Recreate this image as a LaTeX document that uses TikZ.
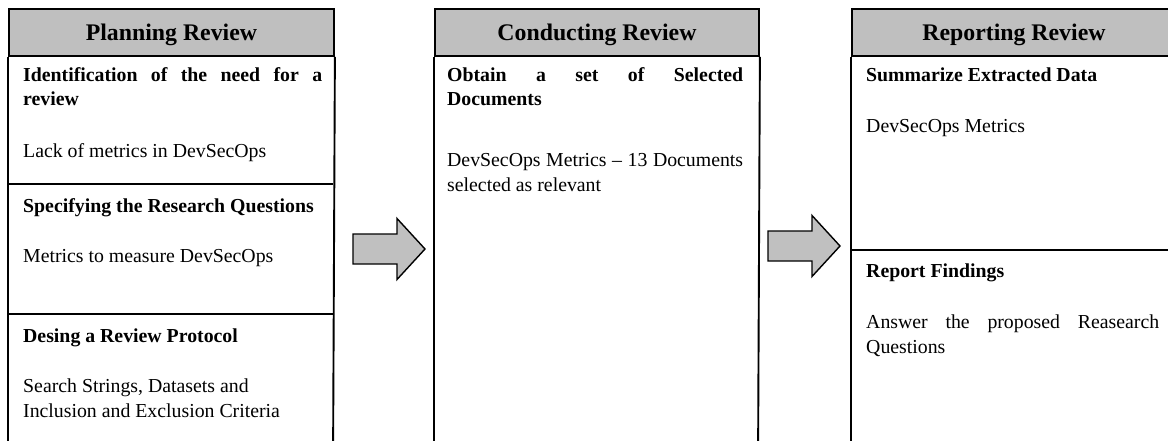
\documentclass[tikz,border=0pt]{standalone}
\usepackage{fontspec}
\setmainfont{Liberation Serif}
\usetikzlibrary{calc}

\hyphenpenalty=10000
\exhyphenpenalty=10000
\tolerance=10000

\begin{document}
\begin{tikzpicture}[x=1pt, y=-1pt,
  phasehead/.style={draw=black, line width=1.9pt, fill=headgray, anchor=north west,
    minimum width=325pt, minimum height=47pt, inner sep=0pt,
    text height=16pt, text depth=0pt, font=\fontsize{23.8}{28}\selectfont\bfseries},
  celltitle/.style={anchor=base west, inner sep=0pt, text width=296pt, align=justify,
    font=\fontsize{19.8}{24}\selectfont\bfseries},
  celltext/.style={celltitle, font=\fontsize{19.8}{25}\selectfont},
  colline/.style={line width=1.9pt},
  blockarrow/.style={draw=black, line width=1.4pt, fill=arrowgray, line join=miter}]

%─────────────
% Controls
%─────────────
\definecolor{headgray}{RGB}{191,191,191}  % header fill
\definecolor{arrowgray}{RGB}{192,192,192} % block arrow fill
\def\colbottom{470}  % columns run on below the picture

\useasboundingbox (0,0) rectangle (1168,441);
\clip (0,0) rectangle (1168,441);

%─────────────────────────────────────────────────────────────
% Block arrow between two phases: tip at (#1+72,#2)
%─────────────────────────────────────────────────────────────
\newcommand{\drawBlockArrow}[2]{%
  \begin{scope}[shift={(#1,#2)}]
    \draw[blockarrow] (0,-15) -- (44,-15) -- (44,-30.5) -- (72,0)
      -- (44,30.5) -- (44,15) -- (0,15) -- cycle;
  \end{scope}
}

%─────────────
% Phase headers
%─────────────
\node[phasehead] (planhead) at (8,8) {Planning Review};
\node[phasehead, minimum width=324pt] (conducthead) at (434,8) {Conducting Review};
\node[phasehead, minimum width=324pt] (reporthead) at (851,8) {Reporting Review};

%─────────────
% Column frames and cell rules
%─────────────
\draw[colline] (planhead.south west) -- (8,\colbottom);
\draw[colline] (planhead.south east) -- (333,\colbottom);
\draw[colline] (8,184) -- (333,184);
\draw[colline] (8,314) -- (333,314);

\draw[colline] (conducthead.south west) -- (434,\colbottom);
\draw[colline] (conducthead.south east) -- (758,\colbottom);

\draw[colline] (reporthead.south west) -- (851,\colbottom);
\draw[colline] (reporthead.south east) -- (1175,\colbottom);
\draw[colline] (851,250) -- (1175,250);

%─────────────
% Planning Review cells
%─────────────
\node[celltitle, text width=299pt] (needtitle) at (23,82) {Identification of the need for a review};
\node[celltext, text width=299pt] (needtext) at (23,158) {Lack of metrics in DevSecOps};
\node[celltitle, text width=299pt] (rqtitle) at (23,212) {Specifying the Research Questions};
\node[celltext, text width=299pt] (rqtext) at (23,262) {Metrics to measure DevSecOps};
\node[celltitle, text width=299pt] (prototitle) at (23,342) {Desing a Review Protocol};
\node[celltext, text width=299pt] (prototext) at (23,392) {Search Strings, Datasets and\\Inclusion and Exclusion Criteria};

%─────────────
% Conducting Review cell
%─────────────
\node[celltitle] (obtaintitle) at (447,82) {Obtain a set of Selected\linebreak Documents};
\node[celltext] (obtaintext) at (447,167) {DevSecOps Metrics -- 13 Documents selected as relevant};

%─────────────
% Reporting Review cells
%─────────────
\node[celltitle, text width=293pt] (summtitle) at (866,82) {Summarize Extracted Data};
\node[celltext, text width=293pt] (summtext) at (866,133) {DevSecOps Metrics};
\node[celltitle, text width=293pt] (findtitle) at (866,277) {Report Findings};
\node[celltext, text width=293pt] (findtext) at (866,328) {Answer the proposed Reasearch Questions};

%─────────────
% Arrows between phases
%─────────────
\drawBlockArrow{353}{249}
\drawBlockArrow{768}{246}
\end{tikzpicture}
\end{document}
